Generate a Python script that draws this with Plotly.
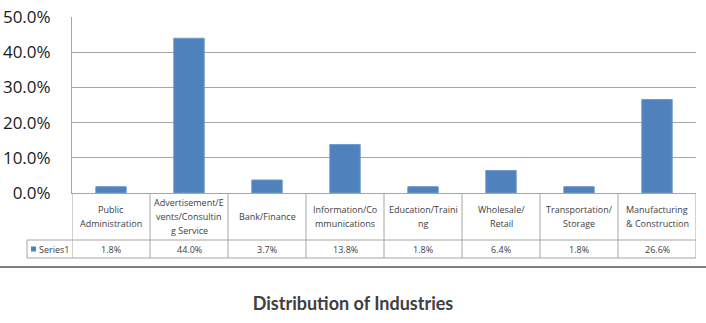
import plotly.graph_objects as go

categories = ["Public Administration", "Advertisement/Events/Consulting Service",
              "Bank/Finance", "Information/Communications", "Education/Training",
              "Wholesale/Retail", "Transportation/Storage", "Manufacturing & Construction"]
cell_labels = ["Public<br>Administration", "Advertisement/E<br>vents/Consultin<br>g Service",
               "Bank/Finance", "Information/Co<br>mmunications", "Education/Traini<br>ng",
               "Wholesale/<br>Retail", "Transportation/<br>Storage", "Manufacturing<br>& Construction"]
values = [0.018, 0.440, 0.037, 0.138, 0.018, 0.064, 0.018, 0.266]
series_name = "Series1"
y_ticks = [0.0, 0.1, 0.2, 0.3, 0.4, 0.5]

W, H = 706, 323
L, R, T, B = 72, 10, 17, 130
ph = H - T - B

def py(pix):  # pixel y -> paper y
    return (H - B - pix) / ph

def px(pix):
    return (pix - L) / (W - L - R)

bar_color = "#4F81BD"
grid = "#A6A6A6"
txt = "#404040"
tfont = dict(family="Open Sans", size=9, color=txt)

fig = go.Figure()
fig.add_trace(go.Bar(x=list(range(len(categories))), y=values, width=0.39,
                     marker=dict(color=bar_color, line=dict(color="#6F9AD0", width=1)),
                     name=series_name, hovertext=categories))

row1_bot = py(240)
row2_bot = py(258)
shapes = []
n = len(categories)
for i in range(n + 1):
    shapes.append(dict(type="line", xref="x", yref="paper", x0=i - 0.5, x1=i - 0.5,
                       y0=0, y1=row2_bot, line=dict(color=grid, width=1)))
for yy in (row1_bot, row2_bot):
    shapes.append(dict(type="line", xref="paper", yref="paper", x0=px(27), x1=1,
                       y0=yy, y1=yy, line=dict(color=grid, width=1)))
shapes.append(dict(type="line", xref="paper", yref="paper", x0=px(27), x1=px(27),
                   y0=row1_bot, y1=row2_bot, line=dict(color=grid, width=1)))
# legend key
shapes.append(dict(type="rect", xref="paper", yref="paper", x0=px(31), x1=px(36),
                   y0=py(251.5), y1=py(246.5), fillcolor=bar_color, line=dict(width=0)))
# bottom separator line
shapes.append(dict(type="line", xref="paper", yref="paper", x0=px(0), x1=px(W),
                   y0=py(267), y1=py(267), line=dict(color="#808080", width=2)))

ann = []
row1_center = 216.5
line_gap = 14
for i, (lab, v) in enumerate(zip(cell_labels, values)):
    parts = lab.split("<br>")
    k = len(parts)
    for j, part in enumerate(parts):
        yc = row1_center + (j - (k - 1) / 2) * line_gap
        ann.append(dict(x=i, y=py(yc), xref="x", yref="paper", text=part,
                        showarrow=False, font=tfont, yanchor="middle", align="center"))
    ann.append(dict(x=i, y=(row1_bot + row2_bot) / 2, xref="x", yref="paper",
                    text=f"{v*100:.1f}%", showarrow=False, font=tfont, yanchor="middle"))
ann.append(dict(x=px(37), y=(row1_bot + row2_bot) / 2, xref="paper", yref="paper",
                text=series_name, showarrow=False, font=tfont, xanchor="left", yanchor="middle"))

fig.update_layout(
    width=W, height=H, margin=dict(l=L, r=R, t=T, b=B, autoexpand=False),
    paper_bgcolor="white", plot_bgcolor="white", showlegend=False,
    shapes=shapes, annotations=ann, bargap=0.6,
    title=dict(text="<b>Distribution of Industries</b>", x=0.5, xanchor="center",
               xref="container", y=1 - 304 / H, yanchor="middle",
               font=dict(family="Lato", size=18, color="#404040")),
    xaxis=dict(range=[-0.5, n - 0.5], showticklabels=False, showgrid=False, automargin=False,
               zeroline=False, showline=True, linecolor=grid, linewidth=1, ticks=""),
    yaxis=dict(range=[0, 0.5005], tickvals=y_ticks, tickformat=".1%", showgrid=True,
               gridcolor=grid, gridwidth=1, zeroline=False, showline=True, linecolor=grid,
               linewidth=1, ticks="", ticklabelstandoff=17, automargin=False,
               tickfont=dict(family="Open Sans", size=17, color="#1a1a1a")),
)
fig.write_html("out.html")
